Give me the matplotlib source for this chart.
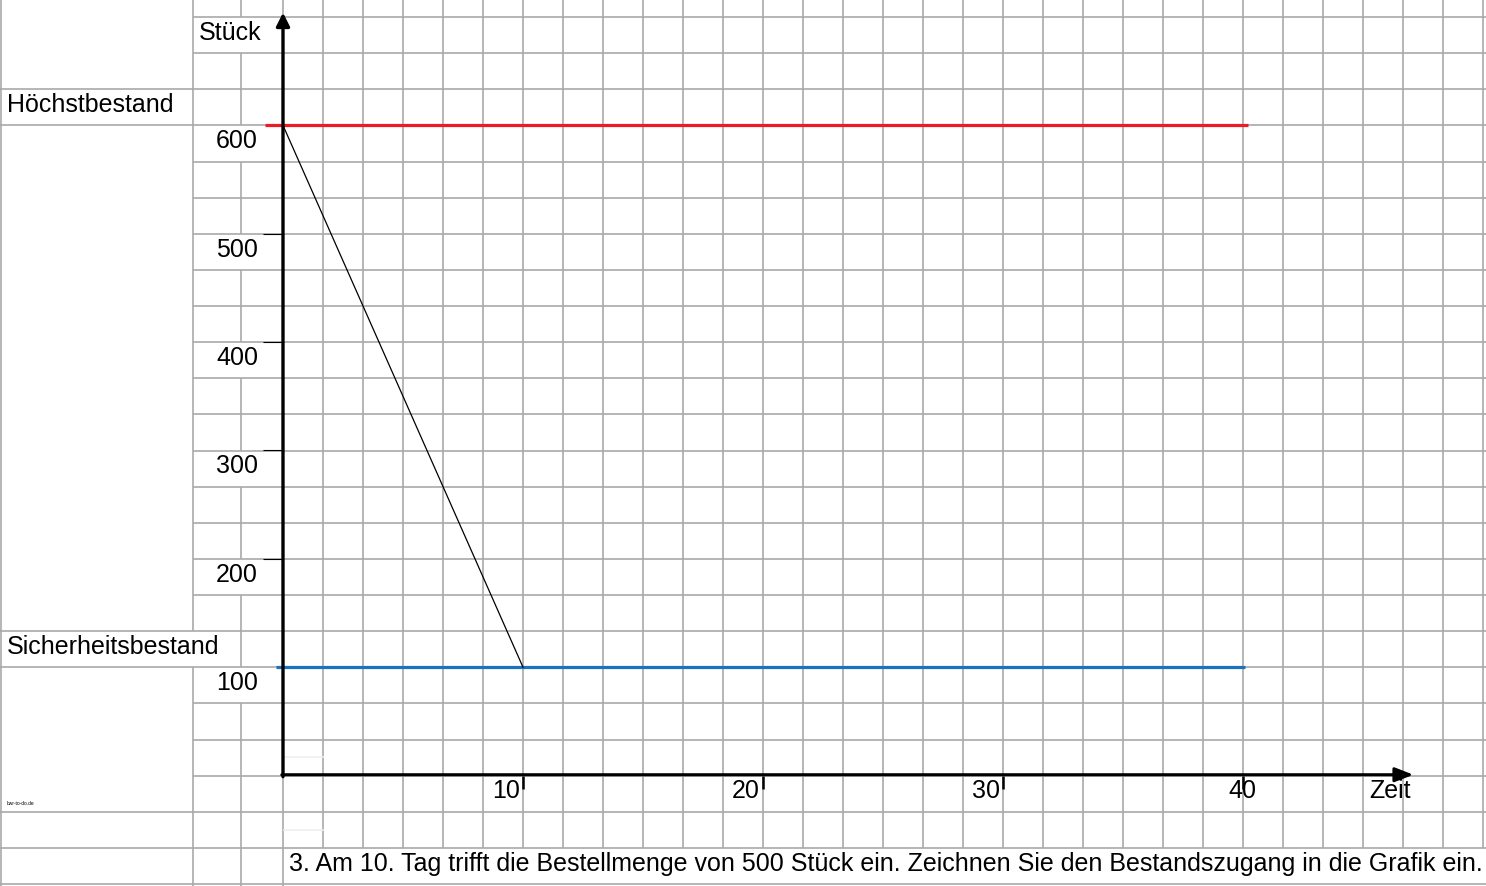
import matplotlib
matplotlib.use("Agg")
import matplotlib.pyplot as plt
import numpy as np

plt.rcParams['font.family'] = ['Liberation Sans', 'DejaVu Sans']

# --------------------------
# Daten
# --------------------------
hoechstbestand = 600
sicherheitsbestand = 100
linie_von = [-0.75, -0.3]       # Beginn rote / blaue Linie (Tage)
linie_bis = [40.2, 40.1]        # Ende rote / blaue Linie (Tage)
verbrauch_tage = [0, 10]
verbrauch_bestand = [600, 100]
y_ticks = [200, 300, 400, 500]
y_labels = [100, 200, 300, 400, 500, 600]
x_ticks = [10, 20, 30, 40]
aufgabe = ("3. Am 10. Tag trifft die Bestellmenge von 500 Stück ein. "
           "Zeichnen Sie den Bestandszugang in die Grafik ein.")

FS = 18.0
W, H = 1486, 886
GRID = '#a9a9a9'
ROT = '#ed1c24'
BLAU = '#1a73be'

fig = plt.figure(figsize=(W / 100, H / 100), dpi=100)

# --------------------------
# Tabellenraster (Pixel)
# --------------------------
bg = fig.add_axes([0, 0, 1, 1])
bg.set_xlim(0, W)
bg.set_ylim(H, 0)
bg.axis('off')

rows = 17 + 36.125 * np.arange(25)
cols = 283 + 40 * np.arange(31)
glw = 1.2

for k, y in enumerate(rows):
    bg.plot([193, W], [y, y], color=GRID, lw=glw, solid_capstyle='butt')
    if k in (2, 3, 17, 18, 22, 23, 24):
        bg.plot([0, 193], [y, y], color=GRID, lw=glw, solid_capstyle='butt')

bg.plot([1, 1], [0, H], color=GRID, lw=glw)
bg.plot([193, 193], [0, rows[17]], color=GRID, lw=glw, solid_capstyle='butt')
bg.plot([193, 193], [rows[18], H], color=GRID, lw=glw, solid_capstyle='butt')
merged_241 = (0, 3, 6, 9, 12, 15, 18)
bg.plot([241, 241], [0, rows[0]], color=GRID, lw=glw, solid_capstyle='butt')
for k in range(24):
    if k not in merged_241:
        bg.plot([241, 241], [rows[k], rows[k + 1]], color=GRID, lw=glw, solid_capstyle='butt')
bg.plot([241, 241], [rows[24], H], color=GRID, lw=glw, solid_capstyle='butt')
for j, x in enumerate(cols):
    y_end = H if j == 0 else rows[23]
    bg.plot([x, x], [0, y_end], color=GRID, lw=glw, solid_capstyle='butt')

# schwache Reste
for y in (757, 830):
    bg.plot([284, 323], [y, y], color='#efefef', lw=1.2)

# Beschriftungen der Tabellenzellen
bg.text(199, 40, 'Stück', fontsize=FS, va='baseline', ha='left')
bg.text(7, 112, 'Höchstbestand', fontsize=FS, va='baseline', ha='left')
bg.text(7, 654, 'Sicherheitsbestand', fontsize=FS, va='baseline', ha='left')
bg.text(1369, 798, 'Zeit', fontsize=FS, va='baseline', ha='left')
bg.text(289, 871, aufgabe, fontsize=FS, va='baseline', ha='left')
bg.text(7, 805, 'bwr-to-do.de', fontsize=3.5, va='baseline', ha='left')

# --------------------------
# Diagramm (Daten)
# --------------------------
x0, x1 = 283, 1483
y0, y1 = 775.6, 17
ax = fig.add_axes([x0 / W, (H - y0) / H, (x1 - x0) / W, (y0 - y1) / H])
ax.patch.set_alpha(0)
ax.set_xlim(0, 50)
ax.set_ylim(0, 700)
for s in ax.spines.values():
    s.set_visible(False)

ax.set_yticks(y_ticks)
ax.set_yticklabels([])
ax.tick_params(axis='y', direction='out', length=14.4, width=0.8, color='black')
ax.set_xticks(x_ticks)
ax.set_xticklabels([])
ax.tick_params(axis='x', direction='out', length=9.5, width=1.8, color='black', pad=0)

ax.plot([linie_von[0], linie_bis[0]], [hoechstbestand, hoechstbestand],
        color=ROT, lw=2.3, solid_capstyle='butt', clip_on=False, zorder=3)
ax.plot([linie_von[1], linie_bis[1]], [sicherheitsbestand, sicherheitsbestand],
        color=BLAU, lw=2.3, solid_capstyle='butt', clip_on=False, zorder=3)
ax.plot(verbrauch_tage, verbrauch_bestand, color='black', lw=0.9, zorder=4)

# Achsen mit Pfeilspitzen
ax.annotate('', xy=(0, 704), xytext=(0, -1), annotation_clip=False,
            arrowprops=dict(arrowstyle='-|>,head_length=8,head_width=4',
                            mutation_scale=1, lw=2.4, color='black',
                            shrinkA=0, shrinkB=0), zorder=5)
ax.annotate('', xy=(47.1, 0.8), xytext=(-0.05, 0.8), annotation_clip=False,
            arrowprops=dict(arrowstyle='-|>,head_length=11,head_width=4.3',
                            mutation_scale=1, lw=2.2, color='black',
                            shrinkA=0, shrinkB=0), zorder=5)

for v in y_labels:
    ax.annotate(str(v), xy=(0, v), xytext=(-25, -23), textcoords='offset pixels',
                ha='right', va='baseline', fontsize=FS, annotation_clip=False)

for v in x_ticks:
    if v == x_ticks[-1]:
        ax.annotate(str(v), xy=(v, 0), xytext=(-1, -22.5), textcoords='offset pixels',
                    ha='center', va='baseline', fontsize=FS, annotation_clip=False)
    else:
        ax.annotate(str(v), xy=(v, 0), xytext=(-3, -22.5), textcoords='offset pixels',
                    ha='right', va='baseline', fontsize=FS, annotation_clip=False)

fig.savefig('out.png', dpi=100)
